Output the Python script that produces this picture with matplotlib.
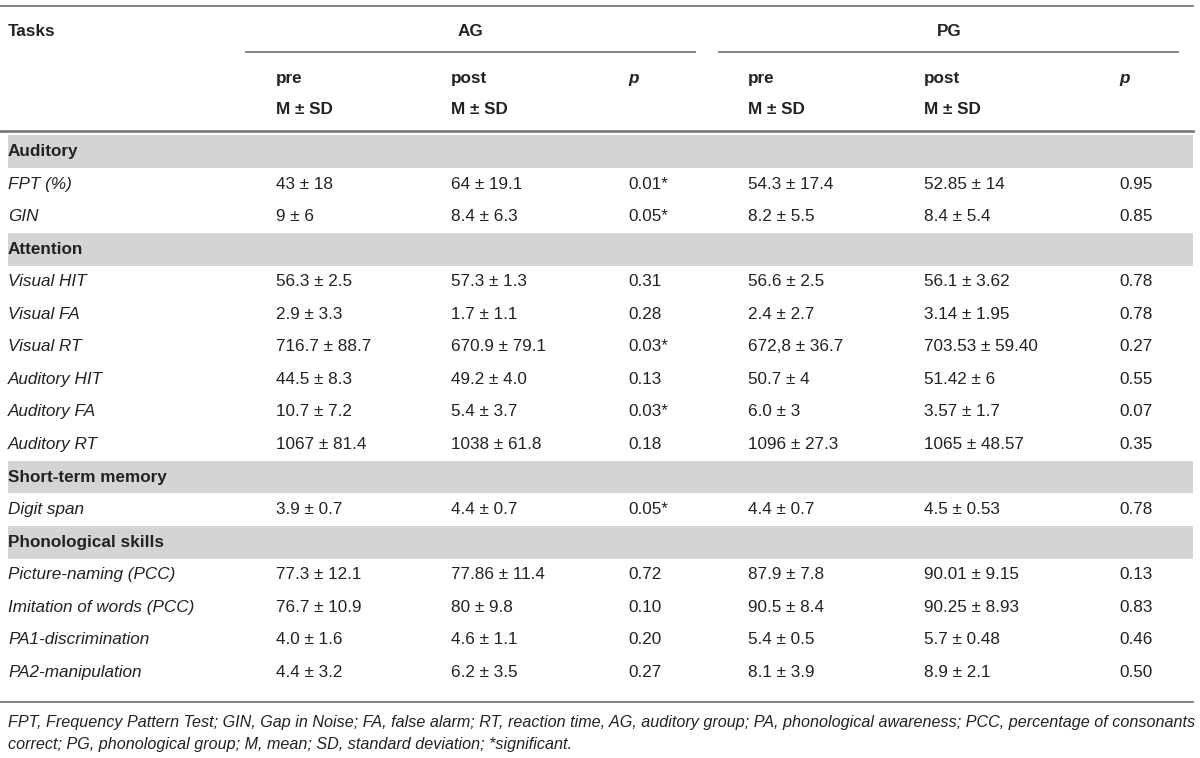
import matplotlib
matplotlib.use("Agg")
import matplotlib.pyplot as plt

plt.rcParams['font.family'] = ['Liberation Sans', 'DejaVu Sans']

# 表格数据
sections = ["Auditory", "Attention", "Short-term memory", "Phonological skills"]
section_tasks = [
    ["FPT (%)", "GIN"],
    ["Visual HIT", "Visual FA", "Visual RT", "Auditory HIT", "Auditory FA", "Auditory RT"],
    ["Digit span"],
    ["Picture-naming (PCC)", "Imitation of words (PCC)", "PA1-discrimination", "PA2-manipulation"],
]
ag_pre = ["43 ± 18", "9 ± 6", "56.3 ± 2.5", "2.9 ± 3.3", "716.7 ± 88.7", "44.5 ± 8.3",
          "10.7 ± 7.2", "1067 ± 81.4", "3.9 ± 0.7", "77.3 ± 12.1", "76.7 ± 10.9",
          "4.0 ± 1.6", "4.4 ± 3.2"]
ag_post = ["64 ± 19.1", "8.4 ± 6.3", "57.3 ± 1.3", "1.7 ± 1.1", "670.9 ± 79.1", "49.2 ± 4.0",
           "5.4 ± 3.7", "1038 ± 61.8", "4.4 ± 0.7", "77.86 ± 11.4", "80 ± 9.8",
           "4.6 ± 1.1", "6.2 ± 3.5"]
ag_p = ["0.01*", "0.05*", "0.31", "0.28", "0.03*", "0.13", "0.03*", "0.18", "0.05*",
        "0.72", "0.10", "0.20", "0.27"]
pg_pre = ["54.3 ± 17.4", "8.2 ± 5.5", "56.6 ± 2.5", "2.4 ± 2.7", "672,8 ± 36.7", "50.7 ± 4",
          "6.0 ± 3", "1096 ± 27.3", "4.4 ± 0.7", "87.9 ± 7.8", "90.5 ± 8.4",
          "5.4 ± 0.5", "8.1 ± 3.9"]
pg_post = ["52.85 ± 14", "8.4 ± 5.4", "56.1 ± 3.62", "3.14 ± 1.95", "703.53 ± 59.40", "51.42 ± 6",
           "3.57 ± 1.7", "1065 ± 48.57", "4.5 ± 0.53", "90.01 ± 9.15", "90.25 ± 8.93",
           "5.7 ± 0.48", "8.9 ± 2.1"]
pg_p = ["0.95", "0.85", "0.78", "0.78", "0.27", "0.55", "0.07", "0.35", "0.78",
        "0.13", "0.83", "0.46", "0.50"]
footnote = ["FPT, Frequency Pattern Test; GIN, Gap in Noise; FA, false alarm; RT, reaction time, AG, auditory group; "
            "PA, phonological awareness; PCC, percentage of consonants",
            "correct; PG, phonological group; M, mean; SD, standard deviation; *significant."]

fig = plt.figure(figsize=(12, 7.58), dpi=100)
ax = fig.add_axes([0, 0, 1, 1])
ax.set_xlim(0, 1200)
ax.set_ylim(758, 0)
ax.axis("off")

txt = "#222222"
linec = "#7a7a7a"
fs = 12.3

# 列位置
col_x = [276, 451, 628, 748, 924, 1119]

# 表头
ax.plot([0, 1193], [6, 6], color=linec, lw=1.3)
ax.text(8, 32, "Tasks", fontsize=fs, fontweight="bold", color=txt, va="center")
ax.text(470, 32, "AG", fontsize=fs, fontweight="bold", color=txt, va="center", ha="center")
ax.text(949, 32, "PG", fontsize=fs, fontweight="bold", color=txt, va="center", ha="center")
ax.plot([246, 695], [52, 52], color=linec, lw=1.3)
ax.plot([719, 1178], [52, 52], color=linec, lw=1.3)
for i, x in enumerate(col_x):
    if i in (2, 5):
        ax.text(x, 78, "p", fontsize=fs, fontweight="bold", fontstyle="italic", color=txt, va="center")
    else:
        ax.text(x, 78, "pre" if i in (0, 3) else "post", fontsize=fs, fontweight="bold", color=txt, va="center")
        ax.text(x, 110, "M ± SD", fontsize=fs, fontweight="bold", color=txt, va="center")
ax.plot([0, 1193], [131, 131], color=linec, lw=2)

# 表体
y0 = 151.5
step = 32.55
y = y0
k = 0
for s, tasks in zip(sections, section_tasks):
    ax.fill_between([8, 1193], y - 16.4, y + 16.4, color="#d4d4d4", lw=0)
    ax.text(8, y, s, fontsize=fs, fontweight="bold", color=txt, va="center")
    y += step
    for t in tasks:
        ax.text(8, y, t, fontsize=fs, fontstyle="italic", color=txt, va="center")
        vals = [ag_pre[k], ag_post[k], ag_p[k], pg_pre[k], pg_post[k], pg_p[k]]
        for x, v in zip(col_x, vals):
            ax.text(x, y, v, fontsize=fs, color=txt, va="center")
        k += 1
        y += step

ax.plot([0, 1193], [702, 702], color=linec, lw=1.3)

# 脚注
ffam = ['Liberation Sans Narrow', 'Liberation Sans', 'DejaVu Sans']
ax.text(8, 722, footnote[0], fontsize=11.6, fontstyle="italic", family=ffam, color=txt, va="center")
ax.text(8, 745, footnote[1], fontsize=11.6, fontstyle="italic", family=ffam, color=txt, va="center")

fig.savefig("out.png", dpi=100)
